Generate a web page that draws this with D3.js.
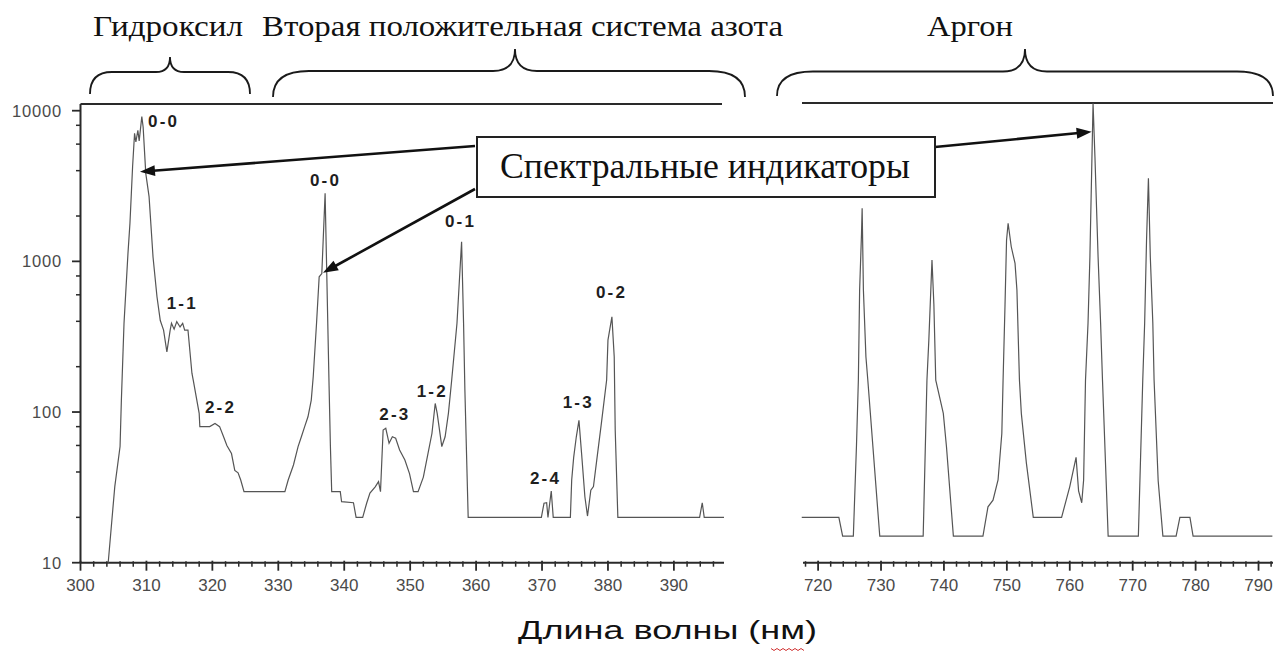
<!DOCTYPE html>
<html><head><meta charset="utf-8">
<script src="https://cdn.jsdelivr.net/npm/d3@7"></script>
<style>body{margin:0;background:#fff}</style>
</head><body>
<svg id="c" width="1280" height="655"></svg>
<script>
// ---- data ----
const ohN2Wavelength = [304.2,305.2,306.0,306.2,306.6,307.2,307.5,307.9,308.2,308.4,308.7,308.9,309.3,309.5,309.9,310.4,311.0,311.6,312.1,312.6,313.1,313.6,313.8,314.2,314.6,315.1,315.5,315.8,316.3,316.9,317.1,318.0,318.1,319.6,320.4,321.1,321.7,322.2,322.9,323.4,323.9,324.3,324.8,331.0,331.5,332.3,333.0,333.5,334.0,334.5,335.0,335.3,335.8,336.2,336.6,337.1,337.7,337.9,338.1,339.4,339.6,341.4,341.8,342.8,343.4,343.9,344.7,345.2,345.5,345.9,346.3,346.8,347.3,347.8,348.4,349.2,349.9,350.5,351.2,352.0,352.7,353.3,353.8,354.1,354.8,355.3,355.8,356.3,357.1,357.8,358.1,358.3,358.8,369.9,370.3,370.7,370.9,371.4,371.7,374.3,374.5,374.8,375.2,375.6,376.0,376.5,376.9,377.4,377.8,378.3,379.0,379.8,380.0,380.6,380.95,381.1,381.5,393.9,394.3,394.6,397.6];
const ohN2Intensity = [10,32,59,120,388,1130,1790,4250,7080,6200,7420,6300,9130,7800,3840,2690,1070,582,405,350,251,350,388,355,398,367,388,350,350,181,163,98,80,80,84,80,68.5,60,53,41,39.5,35.4,29.6,29.6,35.4,44.5,59,68.5,80,93,120,172,388,790,830,2830,150,60,29.6,29.6,25.4,25,20,20,24.8,29,31.9,34.5,29.6,76,78,62,68.5,67,56,48,39,29.6,29.6,37,53,72,114,98,59,68.5,98,163,388,1350,388,140,20,20,24.8,25,20,29.9,20,20,35.4,50,68.5,88,53,27.4,20.4,30.3,32,48,84,163,300,428,233,76,20,20,25,20,20];
const argonWavelength = [717.4,723.3,723.9,725.6,726.1,726.4,726.6,726.9,727.0,727.2,727.6,727.9,729.8,736.7,737.3,737.6,738.1,738.4,738.7,739.9,740.4,741.5,746.2,747.0,747.8,748.6,749.2,749.4,749.7,749.95,750.2,750.7,751.3,751.6,752.0,752.3,753.1,754.2,758.7,760.0,761.0,761.4,761.9,762.2,762.5,762.9,763.2,763.7,764.0,764.5,764.9,765.2,766.1,770.9,771.6,771.9,772.2,772.5,772.8,773.2,773.4,774.05,774.8,776.9,777.5,779.1,779.6,792.2];
const argonIntensity = [20,20,15,15,60,163,645,1530,2250,645,233,163,15,15,163,300,1020,520,163,98,59,15,15,23.5,26,35.4,72,163,500,1380,1790,1250,970,645,163,98,46,20,20,32,50,30,25,35.4,163,388,1070,11200,4940,1070,388,163,15,15,163,388,1380,3560,1070,388,163,35,15,15,20,20,15,15];

const leftTicks = [300,310,320,330,340,350,360,370,380,390];
const rightTicks = [720,730,740,750,760,770,780,790];
const yTicks = [10,100,1000,10000];
const yTickLabels = ["10","100","1000","10000"];

const bandLabels   = ["0-0","1-1","2-2","0-0","0-1","0-2","2-3","1-2","2-4","1-3"];
const bandLabelNm  = [310.24,313.07,318.88,334.8,355.28,378.18,345.31,350.99,368.17,373.13];
const bandLabelVal = [7780,482,98.5,3160,1690,571,88.5,126,33.3,106];

const groupNames = ["Гидроксил","Вторая положительная система азота","Аргон"];
const indicatorText = "Спектральные индикаторы";
const axisTitle = "Длина волны (нм)";
// arrow targets: [panel, wavelength, intensity]
const indicatorTargets = [["L",309.02,3932],["L",336.78,840],["R",763.47,7245]];

// ---- layout ----
const svg = d3.select("#c");
const sans = "'Liberation Sans', Arial, sans-serif";
const serif = "'Liberation Serif', 'Times New Roman', serif";
const y = d3.scaleLog().domain([10,10000]).range([562.7,110.7]);
const xL = d3.scaleLinear().domain([300,397.6]).range([80.5,724]);
const xR = d3.scaleLinear().domain([717.6,792.3]).range([803,1273]);
const axisY = 562.7, topY = 104;
const ink = "#2a2a2a", grey = "#555";

// top border lines
svg.append("line").attr("x1",80.5).attr("x2",722).attr("y1",topY).attr("y2",topY).attr("stroke",ink).attr("stroke-width",1.8);
svg.append("line").attr("x1",802).attr("x2",1273).attr("y1",topY-1).attr("y2",topY-1).attr("stroke",ink).attr("stroke-width",1.8);

function xAxis(scale, major, lo, hi) {
  const g = svg.append("g").attr("transform",`translate(0,${axisY})`);
  g.append("line").attr("x1",scale.range()[0]).attr("x2",scale.range()[1]).attr("stroke",ink).attr("stroke-width",2);
  const minor = d3.range(lo, hi, 2).filter(v => major.indexOf(v) < 0);
  g.selectAll(".mn").data(minor).join("line").attr("x1",scale).attr("x2",scale).attr("y1",-1.5).attr("y2",4).attr("stroke",ink).attr("stroke-width",1.5);
  g.selectAll(".mj").data(major).join("line").attr("x1",scale).attr("x2",scale).attr("y1",-2).attr("y2",8).attr("stroke",ink).attr("stroke-width",1.8);
  g.selectAll(".lb").data(major).join("text").attr("x",scale).attr("y",28).attr("text-anchor","middle")
    .attr("font-family",sans).attr("font-size",17).attr("fill","#4a4a4a").text(d => d);
}
xAxis(xL, leftTicks, 300, 398);
xAxis(xR, rightTicks, 718, 793);

// y axis
const ya = svg.append("g").attr("transform","translate(80.5,0)");
ya.append("line").attr("y1",topY).attr("y2",axisY).attr("stroke",ink).attr("stroke-width",2);
const yMinor = [];
[10,100,1000].forEach(d => [2,4,6,8].forEach(k => yMinor.push(d*k)));
ya.selectAll(".ymn").data(yMinor).join("line").attr("x1",-4.5).attr("x2",0).attr("y1",y).attr("y2",y).attr("stroke",ink).attr("stroke-width",1.5);
ya.selectAll(".ymj").data(yTicks).join("line").attr("x1",-8.5).attr("x2",0).attr("y1",y).attr("y2",y).attr("stroke",ink).attr("stroke-width",1.8);
ya.selectAll(".ylb").data(yTicks).join("text").attr("x",-18.5).attr("y",d => y(d)+6).attr("text-anchor","end")
  .attr("font-family",sans).attr("font-size",16.5).attr("letter-spacing",0.8).attr("fill","#4a4a4a").text((d,i) => yTickLabels[i]);

// spectra
const lineL = d3.line().x(d => xL(d[0])).y(d => y(d[1]));
const lineR = d3.line().x(d => xR(d[0])).y(d => y(d[1]));
svg.append("path").datum(d3.zip(ohN2Wavelength, ohN2Intensity)).attr("d",lineL).attr("fill","none").attr("stroke",grey).attr("stroke-width",1.2);
svg.append("path").datum(d3.zip(argonWavelength, argonIntensity)).attr("d",lineR).attr("fill","none").attr("stroke",grey).attr("stroke-width",1.2);

// band labels
svg.selectAll(".bl").data(bandLabels).join("text")
  .attr("x",(d,i) => xL(bandLabelNm[i])).attr("y",(d,i) => y(bandLabelVal[i]))
  .attr("font-family",sans).attr("font-weight","bold").attr("font-size",17).attr("letter-spacing",2.2)
  .attr("fill","#1e1e1e").text(d => d);

// braces
function brace(x1, x2, xc, yEnd, yMid, yTip, r, rc) {
  return `M${x1},${yEnd} Q${x1},${yMid} ${x1+r},${yMid} L${xc-rc},${yMid} Q${xc},${yMid} ${xc},${yTip}` +
         ` Q${xc},${yMid} ${xc+rc},${yMid} L${x2-r},${yMid} Q${x2},${yMid} ${x2},${yEnd}`;
}
const braces = [[90,250,170,94,72,57,22,14],[273,745,515,97,71,49,36,22],[777,1273,1025,96,71.5,49,36,22]];
svg.selectAll(".br").data(braces).join("path").attr("d",d => brace(...d)).attr("fill","none").attr("stroke","#1a1a1a").attr("stroke-width",1.8);

// group names
const gx = [93,262,927], gw = [150,521,86];
svg.selectAll(".gn").data(groupNames).join("text").attr("x",(d,i)=>gx[i]).attr("y",36)
  .attr("textLength",(d,i)=>gw[i]).attr("lengthAdjust","spacingAndGlyphs")
  .attr("font-family",serif).attr("font-size",30).attr("fill","#111").text(d => d);

// indicator box and arrows
const starts = [[475,146],[475,189],[935,147]];
indicatorTargets.forEach((t,i) => {
  const sx = t[0]==="L" ? xL : xR;
  const tx = sx(t[1]), ty = y(t[2]);
  const [x0,y0] = starts[i];
  const a = Math.atan2(ty-y0, tx-x0), L = 15, W = 5.5;
  const bx = tx - L*Math.cos(a), by = ty - L*Math.sin(a);
  svg.append("line").attr("x1",x0).attr("y1",y0).attr("x2",bx+2*Math.cos(a)).attr("y2",by+2*Math.sin(a)).attr("stroke","#111").attr("stroke-width",2.6);
  svg.append("path").attr("d",`M${tx},${ty} L${bx - W*Math.sin(a)},${by + W*Math.cos(a)} L${bx + W*Math.sin(a)},${by - W*Math.cos(a)} Z`).attr("fill","#111");
});
svg.append("rect").attr("x",477).attr("y",137).attr("width",458).attr("height",60).attr("fill","#fff").attr("stroke","#222").attr("stroke-width",2);
svg.append("text").attr("x",500).attr("y",178).attr("textLength",410).attr("lengthAdjust","spacingAndGlyphs")
  .attr("font-family",serif).attr("font-size",35).attr("fill","#111").text(indicatorText);

// axis title
svg.append("text").attr("x",518).attr("y",639).attr("textLength",299).attr("lengthAdjust","spacingAndGlyphs")
  .attr("font-family",sans).attr("font-size",26).attr("fill","#111").text(axisTitle);
// spell-check squiggle under "нм"
const sq = d3.range(0,12).map(i => [771 + i*3, 649 + (i%2 ? 1.5 : -0.5)]);
svg.append("path").attr("d",d3.line()(sq)).attr("fill","none").attr("stroke","#d03030").attr("stroke-width",1);
</script>
</body></html>
